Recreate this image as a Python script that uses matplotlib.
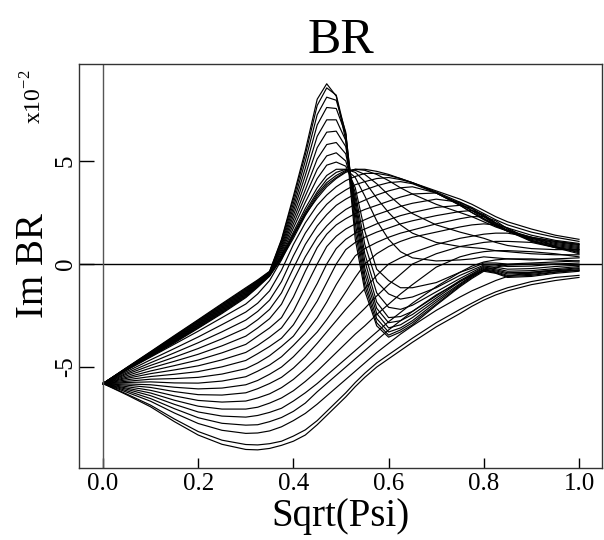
import matplotlib
matplotlib.use('Agg')
import matplotlib.pyplot as plt

plt.rcParams['font.family'] = 'Liberation Serif'
plt.rcParams['mathtext.fontset'] = 'custom'
plt.rcParams['mathtext.rm'] = 'Liberation Serif'
plt.rcParams['axes.unicode_minus'] = False

## sqrt(psi) sample points shared by every profile
sqrt_psi = [0.00, 0.05, 0.10, 0.15, 0.20, 0.25, 0.30, 0.325, 0.35, 0.375, 0.40, 0.425,
            0.45, 0.47, 0.49, 0.51, 0.53, 0.55, 0.575, 0.60, 0.625, 0.65, 0.70, 0.75,
            0.775, 0.80, 0.825, 0.85, 0.90, 0.95, 1.00]

## Im BR (x1e-2), profiles with the sharp peak near 0.47
peak_curves = [
    [-5.8, -5.02, -4.25, -3.47, -2.70, -1.92, -1.15, -0.77, -0.35,
     1.2, 3.3, 5.5, 8.0, 8.75, 8.15, 6.0, 1.2, -1.3, -3.0, -3.55, -3.3, -2.95, -2.0, -1.1, -0.7, -0.35, -0.45, -0.65, -0.6, -0.45, -0.35],
    [-5.8, -5.03, -4.27, -3.50, -2.73, -1.96, -1.19, -0.80, -0.37,
     1.15, 3.15, 5.3, 7.7, 8.55, 8.2, 6.3, 1.6, -1.05, -2.85, -3.45, -3.2, -2.85, -1.95, -1.05, -0.65, -0.3, -0.42, -0.6, -0.55, -0.4, -0.3],
    [-5.8, -5.04, -4.29, -3.53, -2.77, -2.00, -1.23, -0.83, -0.39,
     1.05, 2.95, 5.0, 7.25, 8.1, 7.95, 6.4, 2.0, -0.8, -2.65, -3.3, -3.1, -2.75, -1.85, -1.0, -0.6, -0.28, -0.38, -0.55, -0.5, -0.38, -0.28],
    [-5.8, -5.05, -4.31, -3.56, -2.80, -2.04, -1.27, -0.86, -0.41,
     0.95, 2.75, 4.65, 6.75, 7.6, 7.55, 6.3, 2.4, -0.5, -2.4, -3.1, -2.95, -2.6, -1.75, -0.95, -0.58, -0.25, -0.33, -0.48, -0.45, -0.33, -0.22],
    [-5.8, -5.06, -4.33, -3.59, -2.84, -2.08, -1.31, -0.89, -0.43,
     0.85, 2.55, 4.3, 6.2, 7.0, 7.0, 6.0, 2.7, -0.2, -2.15, -2.85, -2.75, -2.45, -1.65, -0.85, -0.52, -0.2, -0.28, -0.42, -0.4, -0.28, -0.18],
    [-5.8, -5.07, -4.35, -3.62, -2.88, -2.12, -1.35, -0.92, -0.45,
     0.75, 2.35, 3.95, 5.65, 6.4, 6.45, 5.7, 2.95, 0.15, -1.85, -2.6, -2.55, -2.3, -1.55, -0.8, -0.48, -0.15, -0.22, -0.35, -0.32, -0.22, -0.12],
    [-5.8, -5.08, -4.37, -3.65, -2.91, -2.16, -1.39, -0.95, -0.47,
     0.65, 2.15, 3.6, 5.1, 5.8, 5.9, 5.35, 3.2, 0.5, -1.4, -2.1, -2.2, -2.0, -1.35, -0.7, -0.4, -0.1, -0.15, -0.25, -0.22, -0.12, -0.05],
    [-5.8, -5.09, -4.39, -3.68, -2.95, -2.20, -1.43, -0.98, -0.49,
     0.55, 1.95, 3.3, 4.6, 5.25, 5.4, 5.0, 3.45, 0.95, -0.85, -1.45, -1.7, -1.6, -1.15, -0.55, -0.3, -0.05, -0.05, -0.12, -0.1, 0.0, 0.05],
    [-5.8, -5.10, -4.41, -3.71, -2.98, -2.24, -1.47, -1.01, -0.51,
     0.45, 1.75, 3.0, 4.15, 4.8, 4.95, 4.75, 3.7, 1.6, -0.25, -0.8, -1.15, -1.15, -0.9, -0.4, -0.2, 0.05, 0.05, 0.0, 0.05, 0.1, 0.15],
]

## profiles with a broad crest near 0.52
turn_curves = [
    [-5.8, -5.11, -4.43, -3.74, -3.02, -2.28, -1.51, -1.04, -0.53,
     0.4, 1.55, 2.7, 3.7, 4.3, 4.6, 4.6, 4.2, 3.3, 2.1, 1.2, 0.6, 0.3, 0.15, 0.2, 0.25, 0.35, 0.3, 0.25, 0.2, 0.25, 0.3],
    [-5.8, -5.12, -4.45, -3.77, -3.05, -2.32, -1.55, -1.07, -0.55,
     0.35, 1.45, 2.55, 3.5, 4.1, 4.45, 4.6, 4.45, 4.0, 3.2, 2.5, 1.9, 1.5, 1.05, 0.85, 0.8, 0.75, 0.65, 0.6, 0.5, 0.45, 0.45],
    [-5.8, -5.13, -4.47, -3.80, -3.09, -2.36, -1.59, -1.10, -0.57,
     0.3, 1.35, 2.45, 3.4, 3.95, 4.3, 4.55, 4.55, 4.35, 3.9, 3.35, 2.85, 2.45, 1.9, 1.55, 1.4, 1.25, 1.05, 0.9, 0.75, 0.7, 0.7],
    [-5.8, -5.14, -4.49, -3.83, -3.12, -2.40, -1.63, -1.13, -0.59,
     0.25, 1.25, 2.35, 3.3, 3.85, 4.2, 4.5, 4.6, 4.55, 4.35, 4.05, 3.7, 3.4, 2.9, 2.5, 2.3, 2.05, 1.8, 1.6, 1.3, 1.1, 0.95],
]

## profiles dipping below -5 and rising later and later
rise_curves = [
    [-5.8, -5.15, -4.52, -3.89, -3.26, -2.60, -1.94,
     -1.45, -0.8, 0.2, 1.4, 2.4, 3.2, 3.75, 4.15, 4.45, 4.6, 4.6, 4.5, 4.35, 4.15, 3.95, 3.55, 3.15, 2.9, 2.6, 2.3, 2.05, 1.7, 1.4, 1.2],
    [-5.8, -5.22, -4.65, -4.10, -3.54, -2.94, -2.33,
     -1.9, -1.3, -0.3, 0.95, 2.0, 2.85, 3.35, 3.75, 4.05, 4.25, 4.4, 4.4, 4.3, 4.15, 3.95, 3.5, 3.0, 2.75, 2.45, 2.15, 1.9, 1.55, 1.3, 1.1],
    [-5.8, -5.29, -4.79, -4.31, -3.82, -3.29, -2.72,
     -2.3, -1.75, -0.85, 0.4, 1.5, 2.35, 2.9, 3.3, 3.6, 3.85, 4.0, 4.15, 4.2, 4.1, 3.95, 3.45, 2.9, 2.6, 2.3, 2.0, 1.75, 1.4, 1.15, 1.0],
    [-5.8, -5.35, -4.92, -4.52, -4.10, -3.63, -3.11,
     -2.7, -2.2, -1.4, -0.2, 0.95, 1.85, 2.4, 2.85, 3.15, 3.4, 3.6, 3.8, 3.95, 4.0, 3.9, 3.45, 2.85, 2.5, 2.2, 1.9, 1.65, 1.3, 1.1, 0.95],
    [-5.8, -5.42, -5.05, -4.72, -4.38, -3.97, -3.50,
     -3.1, -2.65, -1.95, -0.8, 0.35, 1.3, 1.85, 2.3, 2.65, 2.9, 3.1, 3.35, 3.55, 3.7, 3.75, 3.45, 2.85, 2.5, 2.15, 1.85, 1.6, 1.25, 1.05, 0.9],
    [-5.8, -5.49, -5.19, -4.93, -4.66, -4.31, -3.90,
     -3.5, -3.1, -2.6, -1.6, -0.35, 0.8, 1.45, 1.9, 2.2, 2.45, 2.65, 2.85, 3.05, 3.25, 3.4, 3.45, 2.95, 2.6, 2.2, 1.85, 1.6, 1.25, 1.0, 0.85],
    [-5.8, -5.55, -5.32, -5.14, -4.94, -4.65, -4.29,
     -3.95, -3.55, -3.1, -2.3, -1.15, 0.0, 0.85, 1.35, 1.7, 1.95, 2.15, 2.4, 2.6, 2.8, 2.95, 3.15, 3.0, 2.7, 2.3, 1.9, 1.6, 1.2, 0.95, 0.8],
    [-5.8, -5.62, -5.46, -5.35, -5.22, -4.99, -4.68,
     -4.35, -4.0, -3.6, -2.95, -2.0, -0.95, 0.0, 0.75, 1.2, 1.5, 1.7, 1.95, 2.15, 2.35, 2.5, 2.75, 2.85, 2.7, 2.35, 1.95, 1.6, 1.15, 0.9, 0.75],
    [-5.8, -5.69, -5.59, -5.56, -5.50, -5.34, -5.08,
     -4.8, -4.45, -4.0, -3.5, -2.7, -1.8, -0.9, 0.0, 0.7, 1.05, 1.3, 1.55, 1.75, 1.95, 2.1, 2.35, 2.55, 2.6, 2.4, 2.0, 1.6, 1.1, 0.85, 0.7],
    [-5.8, -5.75, -5.72, -5.77, -5.78, -5.68, -5.47,
     -5.2, -4.9, -4.5, -3.95, -3.35, -2.6, -1.85, -1.0, -0.25, 0.4, 0.75, 1.05, 1.3, 1.5, 1.65, 1.95, 2.2, 2.3, 2.3, 2.1, 1.7, 1.1, 0.8, 0.65],
    [-5.8, -5.82, -5.86, -5.98, -6.06, -6.02, -5.86,
     -5.65, -5.35, -5.0, -4.5, -3.9, -3.3, -2.7, -2.05, -1.35, -0.65, 0.0, 0.5, 0.85, 1.1, 1.3, 1.55, 1.8, 1.9, 1.95, 1.9, 1.75, 1.15, 0.8, 0.6],
    [-5.8, -5.88, -5.99, -6.19, -6.34, -6.36, -6.25,
     -6.05, -5.8, -5.5, -5.05, -4.5, -3.85, -3.3, -2.75, -2.2, -1.7, -1.2, -0.55, 0.0, 0.3, 0.55, 0.95, 1.25, 1.35, 1.45, 1.5, 1.5, 1.3, 0.85, 0.55],
    [-5.8, -5.95, -6.13, -6.40, -6.62, -6.70, -6.65,
     -6.5, -6.3, -6.0, -5.6, -5.1, -4.55, -4.05, -3.55, -3.05, -2.6, -2.15, -1.55, -1.0, -0.5, 0.0, 0.5, 0.85, 0.95, 1.05, 1.1, 1.1, 1.05, 0.8, 0.5],
    [-5.8, -6.02, -6.26, -6.61, -6.90, -7.04, -7.04,
     -6.95, -6.75, -6.5, -6.15, -5.7, -5.2, -4.75, -4.3, -3.85, -3.4, -3.0, -2.45, -1.95, -1.45, -1.0, -0.15, 0.35, 0.5, 0.6, 0.65, 0.65, 0.6, 0.5, 0.35],
    [-5.8, -6.08, -6.39, -6.81, -7.18, -7.38, -7.43,
     -7.35, -7.2, -7.0, -6.65, -6.25, -5.8, -5.4, -5.0, -4.6, -4.2, -3.8, -3.3, -2.8, -2.35, -1.9, -1.1, -0.4, -0.1, 0.1, 0.2, 0.25, 0.25, 0.2, 0.15],
    [-5.8, -6.15, -6.53, -7.02, -7.46, -7.73, -7.82,
     -7.8, -7.65, -7.45, -7.15, -6.75, -6.2, -5.8, -5.4, -5.0, -4.6, -4.2, -3.7, -3.2, -2.75, -2.3, -1.5, -0.85, -0.55, -0.3, -0.15, -0.05, 0.0, 0.0, -0.05],
    [-5.8, -6.22, -6.66, -7.23, -7.74, -8.07, -8.22,
     -8.2, -8.1, -7.9, -7.6, -7.25, -6.8, -6.4, -6.0, -5.6, -5.2, -4.8, -4.3, -3.85, -3.4, -3.0, -2.25, -1.6, -1.3, -1.05, -0.8, -0.6, -0.4, -0.3, -0.3],
    [-5.8, -6.31, -6.85, -7.52, -8.13, -8.55, -8.76,
     -8.78, -8.72, -8.6, -8.35, -8.05, -7.6, -7.15, -6.7, -6.25, -5.75, -5.3, -4.8, -4.4, -4.0, -3.6, -2.85, -2.2, -1.9, -1.6, -1.35, -1.15, -0.85, -0.65, -0.55],
    [-5.8, -6.35, -6.93, -7.65, -8.30, -8.75, -9.00,
     -9.02, -8.95, -8.8, -8.6, -8.3, -7.8, -7.35, -6.9, -6.45, -5.95, -5.5, -5.0, -4.6, -4.2, -3.8, -3.05, -2.4, -2.05, -1.75, -1.5, -1.3, -1.0, -0.8, -0.65],
]

x_ticks = [0.0, 0.2, 0.4, 0.6, 0.8, 1.0]
x_tick_labels = ['0.0', '0.2', '0.4', '0.6', '0.8', '1.0']
y_ticks = [-5, 0, 5]
y_tick_labels = ['-5', '0', '5']

fig = plt.figure(figsize=(6.04, 5.40), dpi=100)
ax = fig.add_axes([79 / 604, 1 - 468 / 540, 523 / 604, 404 / 540])

for curve in peak_curves + turn_curves + rise_curves:
    ax.plot(sqrt_psi, curve, color='black', lw=0.85)

ax.axhline(0, color='black', lw=1.0)
ax.axvline(0, color='#555555', lw=1.0)

ax.set_xlim(-0.0504, 1.0483)
ax.set_ylim(-9.90, 9.71)

ax.set_xticks(x_ticks)
ax.set_xticklabels(x_tick_labels)
ax.set_yticks(y_ticks)
ax.set_yticklabels(y_tick_labels)
ax.tick_params(axis='x', direction='in', length=7, width=1, labelsize=18, pad=3.5)
ax.tick_params(axis='y', direction='in', length=11, width=1, labelsize=18, pad=1.5, labelrotation=90)
for lab in ax.get_yticklabels():
    lab.set_va('center')

for side in ['left', 'right', 'top', 'bottom']:
    ax.spines[side].set_linewidth(1.0)
    ax.spines[side].set_color('#333333')

ax.set_title('BR', fontsize=36, pad=6)
ax.set_xlabel('Sqrt(Psi)', fontsize=28, labelpad=2)
ax.set_ylabel('Im BR', fontsize=28, labelpad=2)

fig.text(34 / 604, 1 - 97 / 540, r'x10$^{-2}$', rotation=90, fontsize=17,
         ha='center', va='center')

plt.savefig('out.png', dpi=100)
